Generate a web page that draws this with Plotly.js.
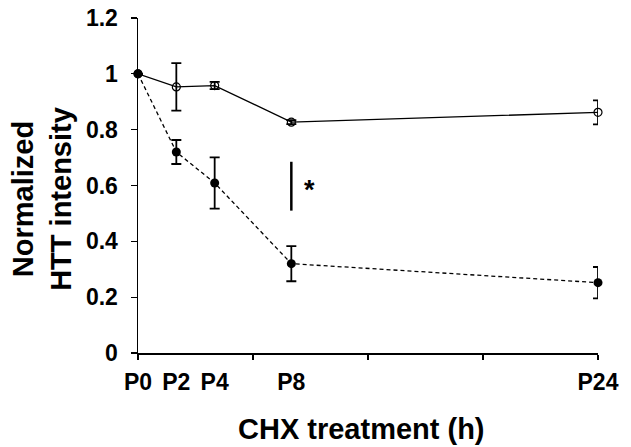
<!DOCTYPE html>
<html>
<head>
<meta charset="utf-8">
<script src="https://cdn.plot.ly/plotly-3.0.1.min.js"></script>
<style>html,body{margin:0;padding:0;background:#fff;}#chart{width:631px;height:447px;}</style>
</head>
<body>
<div id="chart"></div>
<script>
// Data
const hours = [0, 2, 4, 8, 24];
const tickLabels = ['P0', 'P2', 'P4', 'P8', 'P24'];
const minorTickHours = [0, 6, 12, 18, 24];
const controlValues = [1.0, 0.953, 0.958, 0.827, 0.862];
const controlErrors = [0, 0.085, 0.013, 0.007, 0.043];
const treatedValues = [1.0, 0.720, 0.609, 0.320, 0.252];
const treatedErrors = [0, 0.043, 0.092, 0.063, 0.056];
const sigHour = 8;
const sigRange = [0.51, 0.685];
const sigLabel = '*';
const yTitle = 'Normalized<br>HTT intensity';
const xTitle = 'CHX treatment (h)';

const FONT = 'Liberation Sans, Arial, sans-serif';

const traces = [
  {
    x: hours, y: treatedValues, type: 'scatter', mode: 'lines+markers', cliponaxis: false,
    line: {color: '#000', width: 1.3, dash: '4px,3px'},
    marker: {symbol: 'circle', size: 9, color: '#000'},
    error_y: {type: 'data', array: treatedErrors, visible: true, color: '#000', thickness: 1.8, width: 5},
    hoverinfo: 'skip', showlegend: false
  },
  {
    x: hours, y: controlValues, type: 'scatter', mode: 'lines+markers', cliponaxis: false,
    line: {color: '#000', width: 1.3},
    marker: {symbol: 'circle-open', size: 8, color: '#000', line: {width: 1.2, color: '#000'}},
    error_y: {type: 'data', array: controlErrors, visible: true, color: '#000', thickness: 1.8, width: 5},
    hoverinfo: 'skip', showlegend: false
  },
  {
    x: minorTickHours, y: minorTickHours.map(() => null), xaxis: 'x2', yaxis: 'y',
    type: 'scatter', mode: 'none', hoverinfo: 'skip', showlegend: false
  }
];

const layout = {
  width: 631, height: 447,
  margin: {l: 138, r: 33, t: 18, b: 94, pad: 0},
  paper_bgcolor: '#fff', plot_bgcolor: '#fff',
  font: {family: FONT, color: '#000'},
  showlegend: false,
  xaxis: {
    range: [0, 24], tickmode: 'array', tickvals: hours, ticktext: tickLabels,
    ticks: '', showline: false, showgrid: false, zeroline: false,
    tickfont: {family: FONT, size: 23, weight: 'bold', color: '#000'},
    ticklabelstandoff: 13, fixedrange: true
  },
  xaxis2: {
    overlaying: 'x', anchor: 'y', side: 'bottom', range: [0, 24],
    tickmode: 'array', tickvals: minorTickHours, showticklabels: false,
    ticks: 'outside', ticklen: 5, tickwidth: 1.3, tickcolor: '#000',
    showline: true, linecolor: '#000', linewidth: 1.5, showgrid: false, zeroline: false
  },
  yaxis: {
    range: [0, 1.2], tickmode: 'linear', tick0: 0, dtick: 0.2,
    ticks: 'outside', ticklen: 6, tickwidth: 1.3, tickcolor: '#000',
    showline: true, linecolor: '#000', linewidth: 1.5, showgrid: false, zeroline: false,
    tickfont: {family: FONT, size: 23, weight: 'bold', color: '#000'},
    ticklabelstandoff: 8, fixedrange: true
  },
  shapes: [
    {type: 'line', xref: 'x', yref: 'y', x0: sigHour, x1: sigHour, y0: sigRange[0], y1: sigRange[1],
     line: {color: '#000', width: 2.5}}
  ],
  annotations: [
    {xref: 'x', yref: 'y', x: sigHour, y: (sigRange[0] + sigRange[1]) / 2, xshift: 18, yshift: -4,
     text: sigLabel, showarrow: false, font: {family: FONT, size: 27, weight: 'bold', color: '#000'}},
    {xref: 'paper', yref: 'paper', x: -0.2076, y: 0.4587, xanchor: 'center', yanchor: 'middle',
     textangle: -90, text: yTitle, showarrow: false, align: 'center',
     font: {family: FONT, size: 29, weight: 'bold', color: '#000'}},
    {xref: 'paper', yref: 'paper', x: 0.486, y: -0.228, xanchor: 'center', yanchor: 'middle',
     text: xTitle, showarrow: false, font: {family: FONT, size: 29, weight: 'bold', color: '#000'}}
  ]
};

Plotly.newPlot('chart', traces, layout, {staticPlot: true, displayModeBar: false});
</script>
</body>
</html>
